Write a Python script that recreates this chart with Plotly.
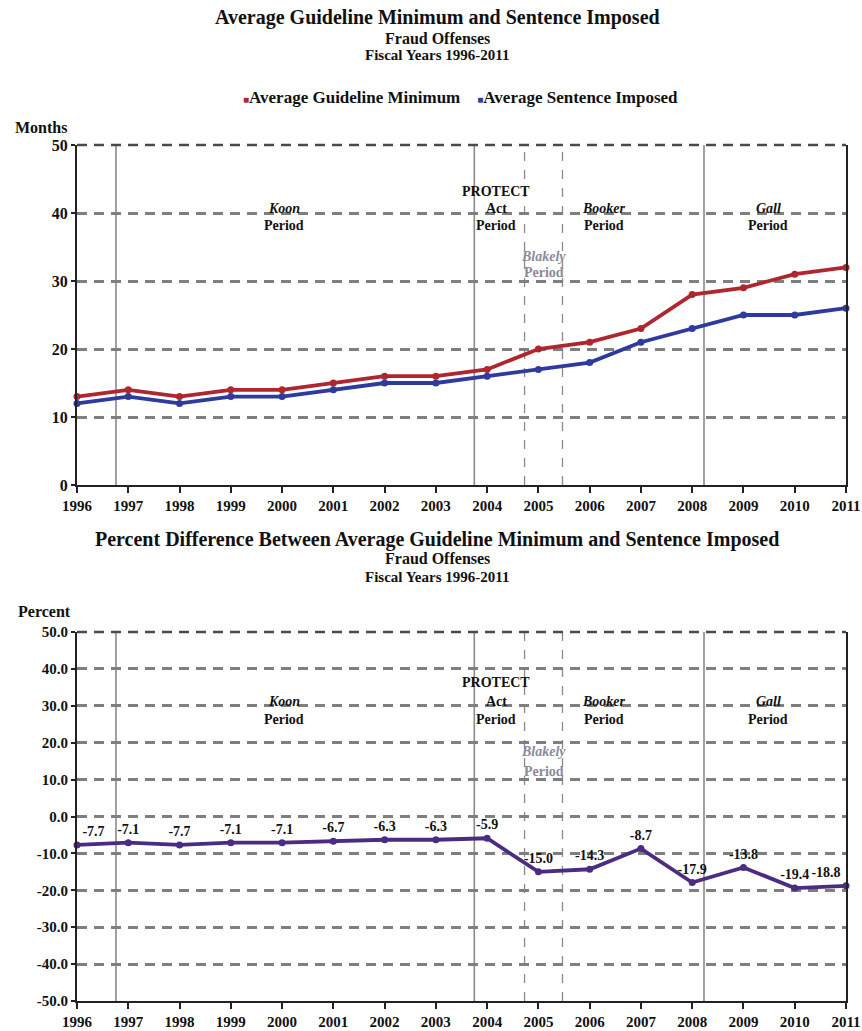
import plotly.graph_objects as go

# ---------------- data ----------------
years = list(range(1996, 2012))
guideline_min = [13, 14, 13, 14, 14, 15, 16, 16, 17, 20, 21, 23, 28, 29, 31, 32]
sentence_imposed = [12, 13, 12, 13, 13, 14, 15, 15, 16, 17, 18, 21, 23, 25, 25, 26]
pct_diff = [-7.7, -7.1, -7.7, -7.1, -7.1, -6.7, -6.3, -6.3, -5.9,
            -15.0, -14.3, -8.7, -17.9, -13.8, -19.4, -18.8]
pct_labels = [f"{v:.1f}" for v in pct_diff]

solid_boundaries = [1996.76, 2003.75, 2008.23]     # Koon / PROTECT / Booker-Gall
blakely_boundaries = [2004.73, 2005.47]            # Blakely period bounds

top_yticks = [0, 10, 20, 30, 40, 50]
bottom_yticks = [-50, -40, -30, -20, -10, 0, 10, 20, 30, 40, 50]
bottom_ytick_labels = [f"{v:.1f}" for v in bottom_yticks]   # plain hyphen minus

# period labels: (first line, x position)
period_labels = [("<i>Koon</i>", 2000.04), ("PROTECT<br>Act", 2004.18),
                 ("<i>Booker</i>", 2006.27), ("<i>Gall</i>", 2009.48)]

RED = "#B0262F"
BLUE = "#2F3A9E"
PURPLE = "#4B2C83"
GRID = "#7f7f7f"
FONT = "Liberation Serif"

W, H = 862, 1031
ML, MR, MT, MB = 77, 16, 145, 30
PH = H - MT - MB
PW = W - ML - MR


def py(y_px):
    """pixel y -> paper fraction"""
    return (MT + PH - y_px) / PH


def pxx(x_px):
    """pixel x -> paper fraction"""
    return (x_px - ML) / PW


fig = go.Figure()

fig.add_trace(go.Scatter(
    x=years, y=guideline_min, mode="lines+markers", name="Average Guideline Minimum",
    line=dict(color=RED, width=3.8), marker=dict(color=RED, size=7),
    cliponaxis=False, showlegend=False, xaxis="x", yaxis="y"))
fig.add_trace(go.Scatter(
    x=years, y=sentence_imposed, mode="lines+markers", name="Average Sentence Imposed",
    line=dict(color=BLUE, width=3.8), marker=dict(color=BLUE, size=7),
    cliponaxis=False, showlegend=False, xaxis="x", yaxis="y"))

label_pos = ["top center"] * len(years)
label_pos[0] = "top right"
label_pos[-1] = "top left"
fig.add_trace(go.Scatter(
    x=years, y=pct_diff, mode="lines+markers+text", name="Percent Difference",
    text=pct_labels, texttemplate="<b>%{text}</b>", textposition=label_pos,
    textfont=dict(family=FONT, size=14, color="#111"),
    line=dict(color=PURPLE, width=3.8), marker=dict(color=PURPLE, size=7),
    cliponaxis=False, showlegend=False, xaxis="x2", yaxis="y2"))

axis_font = dict(family=FONT, size=15, color="#111", weight="bold")

xcommon = dict(range=[1996, 2011], tickmode="array", tickvals=years,
               ticktext=[str(y) for y in years], ticks="outside", ticklen=6,
               tickwidth=2, tickcolor="#222", showline=True, linecolor="#222",
               linewidth=2, showgrid=False, zeroline=False, tickfont=axis_font,
               fixedrange=True, automargin=False)
ycommon = dict(showline=True, linecolor="#222", linewidth=2, mirror=True,
               showgrid=True, gridcolor=GRID, griddash="10px,7px", gridwidth=2.6,
               zeroline=False, ticks="outside", ticklen=4, tickwidth=2,
               tickcolor="#222", fixedrange=True, automargin=False)

fig.update_layout(
    width=W, height=H, autosize=False,
    margin=dict(l=ML, r=MR, t=MT, b=MB, autoexpand=False),
    paper_bgcolor="white", plot_bgcolor="white",
    font=dict(family=FONT, color="#111"),
    xaxis=dict(domain=[0, 1], anchor="y", **xcommon),
    yaxis=dict(domain=[py(485), 1], anchor="x", range=[0, 50],
               tickvals=top_yticks,
               tickfont=dict(family=FONT, size=16, color="#111", weight="bold"),
               **ycommon),
    xaxis2=dict(domain=[0, 1], anchor="y2", **xcommon),
    yaxis2=dict(domain=[0, py(632)], anchor="x2", range=[-50, 50],
                tickvals=bottom_yticks, ticktext=bottom_ytick_labels,
                tickfont=axis_font, **ycommon),
)

# dark dashed top edge of both plot areas
for xr, yr in [("x domain", "y domain"), ("x2 domain", "y2 domain")]:
    fig.add_shape(type="line", xref=xr, yref=yr, x0=0, x1=1, y0=1, y1=1,
                  line=dict(color="#4a4a4a", width=2.6, dash="10px,7px"))

# vertical period boundaries
for yref in ["y domain", "y2 domain"]:
    xr = "x" if yref == "y domain" else "x2"
    for xb in solid_boundaries:
        fig.add_shape(type="line", xref=xr, yref=yref, x0=xb, x1=xb, y0=0, y1=1,
                      line=dict(color="#8a8a8a", width=1.6), layer="below")
    for xb in blakely_boundaries:
        fig.add_shape(type="line", xref=xr, yref=yref, x0=xb, x1=xb, y0=0, y1=1,
                      line=dict(color="#8a8a8a", width=1.3, dash="dash"), layer="below")


# period labels
def add_periods(xr, yr, y_first, y_period, y_protect, y_bl1, y_bl2):
    for txt, xp in period_labels:
        if "PROTECT" in txt:
            fig.add_annotation(x=xp, y=y_protect, xref=xr, yref=yr, showarrow=False,
                               text="<b>PROTECT</b>", font=dict(family=FONT, size=14, color="#111"))
            fig.add_annotation(x=xp, y=y_first, xref=xr, yref=yr, showarrow=False,
                               text="<b>Act</b>", font=dict(family=FONT, size=14, color="#111"))
        else:
            fig.add_annotation(x=xp, y=y_first, xref=xr, yref=yr, showarrow=False,
                               text=f"<b>{txt}</b>", font=dict(family=FONT, size=14, color="#111"))
        fig.add_annotation(x=xp, y=y_period, xref=xr, yref=yr, showarrow=False,
                           text="<b>Period</b>", font=dict(family=FONT, size=14, color="#111"))
    fig.add_annotation(x=2005.1, y=y_bl1, xref=xr, yref=yr, showarrow=False,
                       text="<b><i>Blakely</i></b>", font=dict(family=FONT, size=14, color="#8a8a9a"))
    fig.add_annotation(x=2005.1, y=y_bl2, xref=xr, yref=yr, showarrow=False,
                       text="<b>Period</b>", font=dict(family=FONT, size=14, color="#8a8a9a"))


add_periods("x", "y", 40.6, 38.1, 43.1, 33.6, 31.2)
add_periods("x2", "y2", 31.3, 26.4, 36.4, 17.5, 12.3)


# titles
def title_block(lines, centers_px, x_center_px):
    for (txt, size), ypx in zip(lines, centers_px):
        fig.add_annotation(x=pxx(x_center_px), y=py(ypx), xref="paper", yref="paper",
                           showarrow=False, xanchor="center", yanchor="middle",
                           text=f"<b>{txt}</b>", font=dict(family=FONT, size=size, color="#111"))


title_block([("Average Guideline Minimum and Sentence Imposed", 20),
             ("Fraud Offenses", 16), ("Fiscal Years 1996-2011", 15)],
            [17, 38, 55], 437)
title_block([("Percent Difference Between Average Guideline Minimum and Sentence Imposed", 20),
             ("Fraud Offenses", 16), ("Fiscal Years 1996-2011", 15)],
            [539, 558, 577], 437)

# legend (top chart)
legend_text = (f"<span style='color:{RED};font-size:10px'>■</span><b>Average Guideline Minimum</b>"
               f"    <span style='color:{BLUE};font-size:10px'>■</span><b>Average Sentence Imposed</b>")
fig.add_annotation(x=pxx(460), y=py(97), xref="paper", yref="paper", showarrow=False,
                   xanchor="center", yanchor="middle", text=legend_text,
                   font=dict(family=FONT, size=17, color="#111"))

# axis unit labels
fig.add_annotation(x=pxx(13), y=py(127), xref="paper", yref="paper", showarrow=False,
                   xanchor="left", yanchor="middle", text="<b>Months</b>",
                   font=dict(family=FONT, size=16, color="#111"))
fig.add_annotation(x=pxx(16), y=py(611), xref="paper", yref="paper", showarrow=False,
                   xanchor="left", yanchor="middle", text="<b>Percent</b>",
                   font=dict(family=FONT, size=16, color="#111"))

# remove the default 8px page margin so the figure fills the 862x1031 window exactly
fig.write_html("out.html", config={"displayModeBar": False},
               post_script="document.body.style.margin='0';document.body.style.overflow='hidden';")
